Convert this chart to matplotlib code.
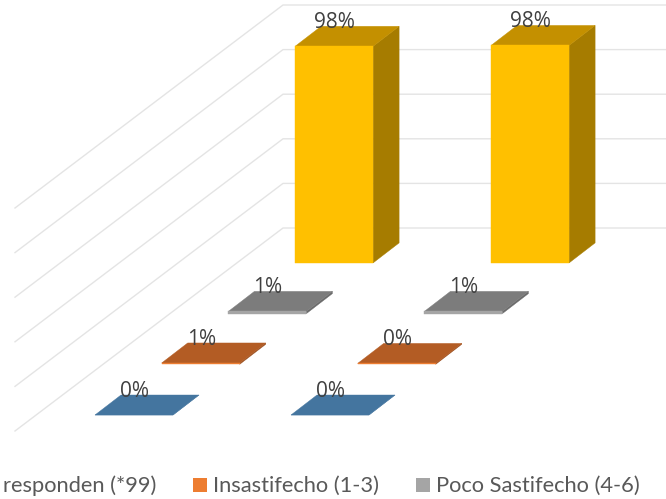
#!/usr/bin/env python3
'''Oblique 3D column chart of satisfaction levels, drawn on a flat axes'''

import matplotlib
matplotlib.use('Agg')
import matplotlib.pyplot as plt
from matplotlib.patches import Polygon

# percentages per category, rows run from the front series to the back one
no_responden = [0.0, 0.0]
insatisfecho = [0.6, 0.4]
poco_satisfecho = [1.0, 1.0]
satisfecho = [98.0, 98.4]
grid_ticks = [0, 20, 40, 60, 80, 100]

legend_labels = ['responden (*99)', 'Insastifecho (1-3)', 'Poco Sastifecho (4-6)']
legend_colors = [None, '#ED7D31', '#A5A5A5']
legend_x = [3, 193, 416]

# front, top, side colours of each series
shades = [
    ('#44759F', '#44759F', '#44759F'),
    ('#ED7D31', '#B35C24', '#9A4E1E'),
    ('#A5A5A5', '#7C7C7C', '#6A6A6A'),
    ('#FFC000', '#C49000', '#A67C00'),
]

# oblique projection settings, in pixels
ORIGIN = (95, 415)
CAT_STEP = 196
SERIES_STEP = (66.7, -50.7)
BAR_W = 78
BAR_DEPTH = (26, -20)
PX_PER_PCT = 2.21


def bar_faces(cat, series, value):
    x0 = ORIGIN[0] + cat * CAT_STEP + series * SERIES_STEP[0]
    y0 = ORIGIN[1] + series * SERIES_STEP[1]
    x1 = x0 + BAR_W
    top = y0 - value * PX_PER_PCT
    dx, dy = BAR_DEPTH
    front = [(x0, y0), (x1, y0), (x1, top), (x0, top)]
    roof = [(x0, top), (x1, top), (x1 + dx, top + dy), (x0 + dx, top + dy)]
    side = [(x1, y0), (x1 + dx, y0 + dy), (x1 + dx, top + dy), (x1, top)]
    return front, roof, side, (x0 + BAR_W / 2, top + dy)


fig = plt.figure(figsize=(6.66, 4.99), dpi=100)
ax = fig.add_axes([0, 0, 1, 1])
ax.set_xlim(0, 666)
ax.set_ylim(499, 0)
ax.axis('off')

# gridlines run along the floor side wall and then across the back wall
for tick in grid_ticks:
    y = 228 - tick * 2.23
    ax.plot([15, 283, 666], [y + 203, y, y], color='#E4E4E4', lw=1.0, zorder=1)

all_series = [no_responden, insatisfecho, poco_satisfecho, satisfecho]
for s in range(len(all_series) - 1, -1, -1):
    values = all_series[s]
    front_c, top_c, side_c = shades[s]
    for c, value in enumerate(values):
        front, roof, side, label_at = bar_faces(c, s, value)
        z = 5 + (3 - s)
        ax.add_patch(Polygon(side, closed=True, fc=side_c, ec=side_c, lw=0.3, zorder=z))
        ax.add_patch(Polygon(roof, closed=True, fc=top_c, ec=top_c, lw=0.3, zorder=z))
        ax.add_patch(Polygon(front, closed=True, fc=front_c, ec=front_c, lw=0.3, zorder=z))
        ax.text(label_at[0] + 0.5, label_at[1] - 3.5, '{:.0f}%'.format(value), ha='center', va='center',
                fontsize=15, family='Open Sans', color='#404040', zorder=20)

# legend row, only the entries that fit the figure width get a swatch
for label, color, x in zip(legend_labels, legend_colors, legend_x):
    text_x = x
    if color is not None:
        ax.add_patch(Polygon([(x, 478), (x + 14, 478), (x + 14, 492), (x, 492)],
                             closed=True, fc=color, ec='none'))
        text_x = x + 20
    ax.text(text_x, 491.5, label, ha='left', va='baseline', fontsize=15.75,
            family='Lato', color='#595959')

fig.savefig('out.png', dpi=100)
